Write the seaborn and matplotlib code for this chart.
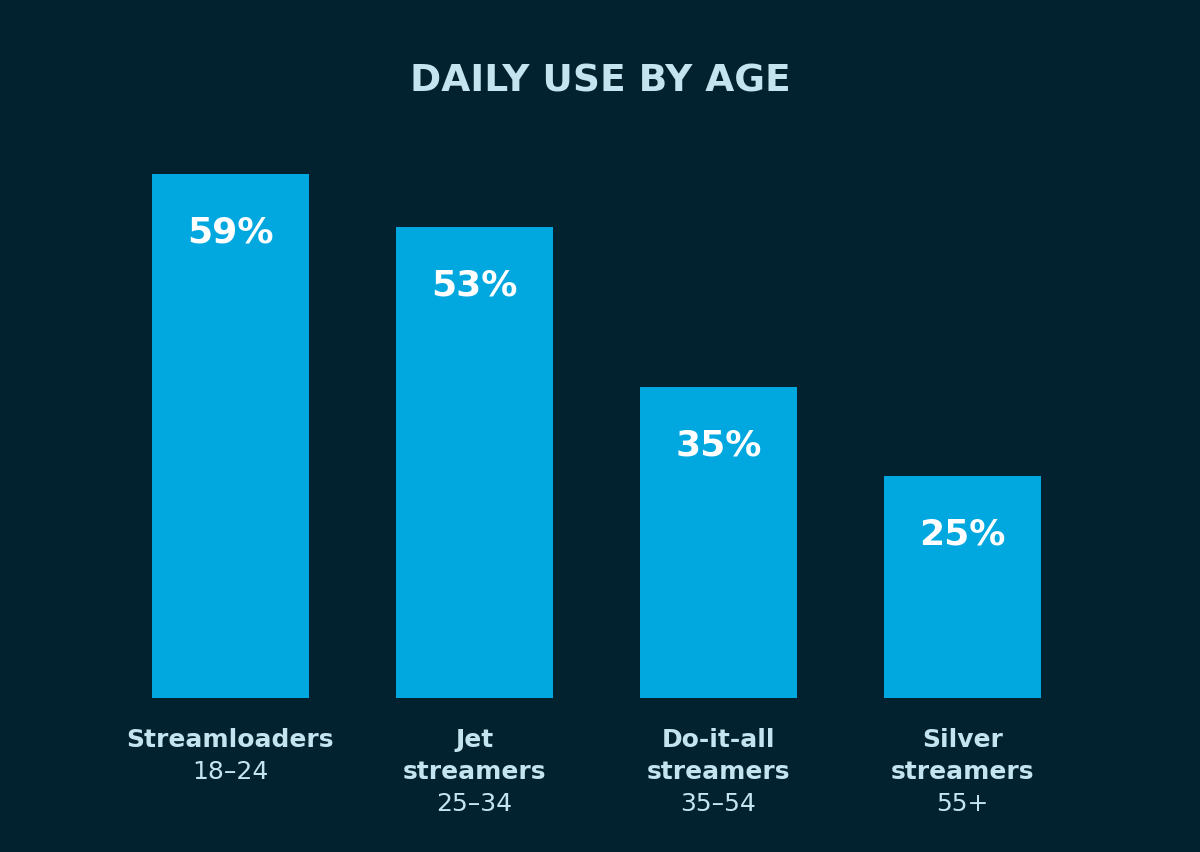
import matplotlib
matplotlib.use("Agg")
import matplotlib.pyplot as plt
import seaborn as sns
import pandas as pd

categories = ["Streamloaders", "Jet\nstreamers", "Do-it-all\nstreamers", "Silver\nstreamers"]
ages = ["18–24", "25–34", "35–54", "55+"]
values = [59, 53, 35, 25]
title = "DAILY USE BY AGE"

BG = "#03222f"
BAR = "#00a8df"
TXT = "#c4e4f0"

sns.set_theme(style="white")
plt.rcParams["font.family"] = ["DejaVu Sans"]

df = pd.DataFrame({"cat": categories, "val": values})

fig = plt.figure(figsize=(12, 8.52), dpi=100, facecolor=BG)
ax = fig.add_axes([0.0904, 0.1808, 0.8133, 0.6878])
ax.set_facecolor(BG)

sns.barplot(data=df, x="cat", y="val", color=BAR, width=0.643,
            saturation=1, ax=ax, edgecolor="none")

ax.set_xlim(-0.5, len(categories) - 0.5)
ax.set_ylim(0, 66)
ax.set_xticks([])
ax.set_yticks([])
ax.set_xlabel("")
ax.set_ylabel("")
for s in ax.spines.values():
    s.set_visible(False)

LINE = 23  # points between label lines
for i, v in enumerate(values):
    ax.annotate(f"{v}%", xy=(i, v), xytext=(0, -42), textcoords="offset points",
                ha="center", va="center", color="white", fontsize=26,
                fontweight="bold")
    lines = categories[i].split("\n")
    for k, ln in enumerate(lines):
        ax.annotate(ln, xy=(i, 0), xytext=(0, -30 - LINE * k), textcoords="offset points",
                    ha="center", va="center", color=TXT, fontsize=18, fontweight="bold",
                    annotation_clip=False)
    ax.annotate(ages[i], xy=(i, 0), xytext=(0, -30 - LINE * len(lines)),
                textcoords="offset points", ha="center", va="center", color=TXT,
                fontsize=18, annotation_clip=False)

fig.text(0.5, 1 - 82 / 852, title, ha="center", va="center", color=TXT,
         fontsize=27, fontweight="bold")

fig.savefig("out.png", dpi=100, facecolor=BG)
